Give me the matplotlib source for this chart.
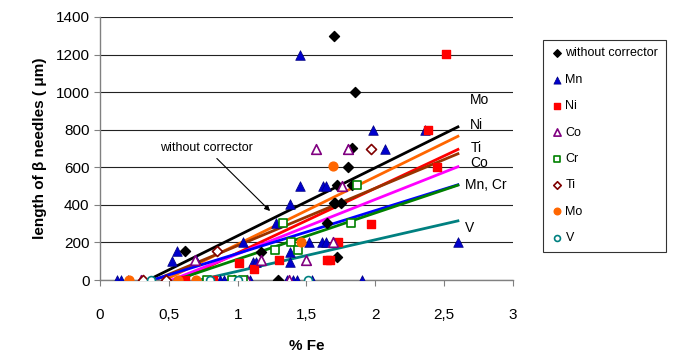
import matplotlib
matplotlib.use("Agg")
import matplotlib.pyplot as plt
import numpy as np

plt.rcParams['font.family'] = ['Liberation Sans', 'DejaVu Sans']

# ---- data ----
wo_x = [0.62, 0.97, 1.17, 1.29, 1.65, 1.70, 1.71, 1.72, 1.72, 1.75, 1.80, 1.83, 1.83, 1.85, 1.70]
wo_y = [155, 0, 150, 0, 305, 410, 410, 507, 123, 410, 603, 704, 507, 1000, 1300]

mn_x = [0.12, 0.15, 0.20, 0.52, 0.56, 0.70, 0.87, 0.90, 1.04, 1.09, 1.11, 1.13, 1.28, 1.36,
        1.38, 1.38, 1.38, 1.40, 1.43, 1.45, 1.45, 1.52, 1.54, 1.61, 1.62, 1.64, 1.64, 1.80,
        1.90, 1.98, 2.07, 2.36, 2.60]
mn_y = [0, 0, 0, 100, 155, 105, 0, 0, 200, 0, 95, 95, 305, 0,
        150, 95, 405, 0, 0, 500, 1200, 200, 0, 200, 500, 200, 500, 700,
        0, 800, 700, 800, 200]

ni_x = [0.62, 0.82, 1.01, 1.12, 1.30, 1.65, 1.67, 1.73, 1.97, 2.38, 2.45, 2.51]
ni_y = [0, 0, 90, 60, 105, 105, 105, 205, 300, 800, 600, 1205]

co_x = [0.30, 0.69, 1.07, 1.17, 1.37, 1.50, 1.57, 1.69, 1.76, 1.80]
co_y = [0, 105, 0, 105, 0, 105, 700, 200, 500, 700]

cr_x = [0.78, 0.96, 1.04, 1.27, 1.33, 1.39, 1.44, 1.82, 1.87]
cr_y = [0, 0, 0, 160, 305, 200, 160, 305, 505]

ti_x = [0.31, 0.48, 0.85, 1.97]
ti_y = [0, 0, 155, 700]

mo_x = [0.21, 0.57, 0.70, 1.46, 1.69]
mo_y = [0, 0, 0, 200, 605]

v_x = [0.37, 0.80, 1.00, 1.51]
v_y = [0, 0, 0, 0]

# regression lines: start (y=0) and end at x=2.6
line_names = ["without corrector", "Mo", "Ni", "Ti", "Co", "Mn", "Cr", "V"]
line_x0 = [0.35, 0.47, 0.58, 0.40, 0.52, 0.38, 0.55, 0.72]
line_x1 = [2.6] * 8
line_y1 = [815, 765, 695, 672, 603, 507, 505, 315]
line_colors = ["black", "#ff6600", "red", "#993300", "#ff00ff", "#0000ff", "#008000", "#008080"]

end_labels = ["Mo", "Ni", "Ti", "Co", "Mn, Cr", "V"]
end_label_x = [2.69, 2.69, 2.69, 2.69, 2.65, 2.65]
end_label_y = [960, 827, 704, 624, 507, 277]

x_ticks = [0, 0.5, 1, 1.5, 2, 2.5, 3]
x_ticklabels = ["0", "0,5", "1", "1,5", "2", "2,5", "3"]
y_ticks = [0, 200, 400, 600, 800, 1000, 1200, 1400]

fig = plt.figure(figsize=(6.82, 3.60), dpi=100)
ax = fig.add_axes([0.1466, 0.222, 0.6056, 0.731])

for yt in y_ticks:
    ax.axhline(yt, color="#222222", lw=0.8, zorder=0)

for x0, x1, y1, c in zip(line_x0, line_x1, line_y1, line_colors):
    ax.plot([x0, x1], [0, y1], color=c, lw=2.0, zorder=2)

ms = 48
ax.scatter(wo_x, wo_y, marker="D", s=26, c="black", zorder=3, label="without corrector")
ax.scatter(mn_x, mn_y, marker="^", s=ms, c="#0000cc", edgecolors="#000080", lw=0.5, zorder=3, label="Mn")
ax.scatter(ni_x, ni_y, marker="s", s=36, c="#ff0000", zorder=3, label="Ni")
ax.scatter(co_x, co_y, marker="^", s=ms, facecolors="white", edgecolors="#800080", lw=1.2, zorder=3, label="Co")
ax.scatter(cr_x, cr_y, marker="s", s=34, facecolors="white", edgecolors="#008000", lw=1.2, zorder=3, label="Cr")
ax.scatter(ti_x, ti_y, marker="D", s=26, facecolors="white", edgecolors="#800000", lw=1.2, zorder=3, label="Ti")
ax.scatter(mo_x, mo_y, marker="o", s=40, c="#ff6600", zorder=3, label="Mo")
ax.scatter(v_x, v_y, marker="o", s=32, facecolors="white", edgecolors="#008080", lw=1.2, zorder=3, label="V")

for t, tx, ty in zip(end_labels, end_label_x, end_label_y):
    ax.text(tx, ty, t, fontsize=10, va="center", ha="left", clip_on=False)

ax.annotate("without corrector", xy=(1.25, 357), xytext=(0.77, 704),
            fontsize=9, ha="center", va="center",
            arrowprops=dict(arrowstyle="-|>", color="black", lw=0.8, mutation_scale=8))

ax.set_xlim(0, 3)
ax.set_ylim(0, 1400)
ax.set_xticks(x_ticks)
ax.set_xticklabels(x_ticklabels)
ax.set_yticks(y_ticks)
ax.tick_params(axis="both", labelsize=11, length=4, color="#808080")
ax.tick_params(axis="x", pad=16)
for s in ["top", "right"]:
    ax.spines[s].set_visible(False)
for s in ["left", "bottom"]:
    ax.spines[s].set_color("#808080")
    ax.spines[s].set_linewidth(1.0)

ax.set_xlabel("% Fe", fontsize=11, fontweight="bold", labelpad=12)
ax.set_ylabel("length of β needles ( μm)", fontsize=11, fontweight="bold", labelpad=6)

leg = fig.legend(loc="upper left", bbox_to_anchor=(543 / 682, 1 - 40 / 360),
                 fontsize=9, frameon=True, fancybox=False, edgecolor="black",
                 labelspacing=1.15, handletextpad=0.1, handlelength=1.1,
                 borderpad=0.6, markerscale=0.75, borderaxespad=0)
leg.get_frame().set_linewidth(0.8)

fig.savefig("out.png", dpi=100)
